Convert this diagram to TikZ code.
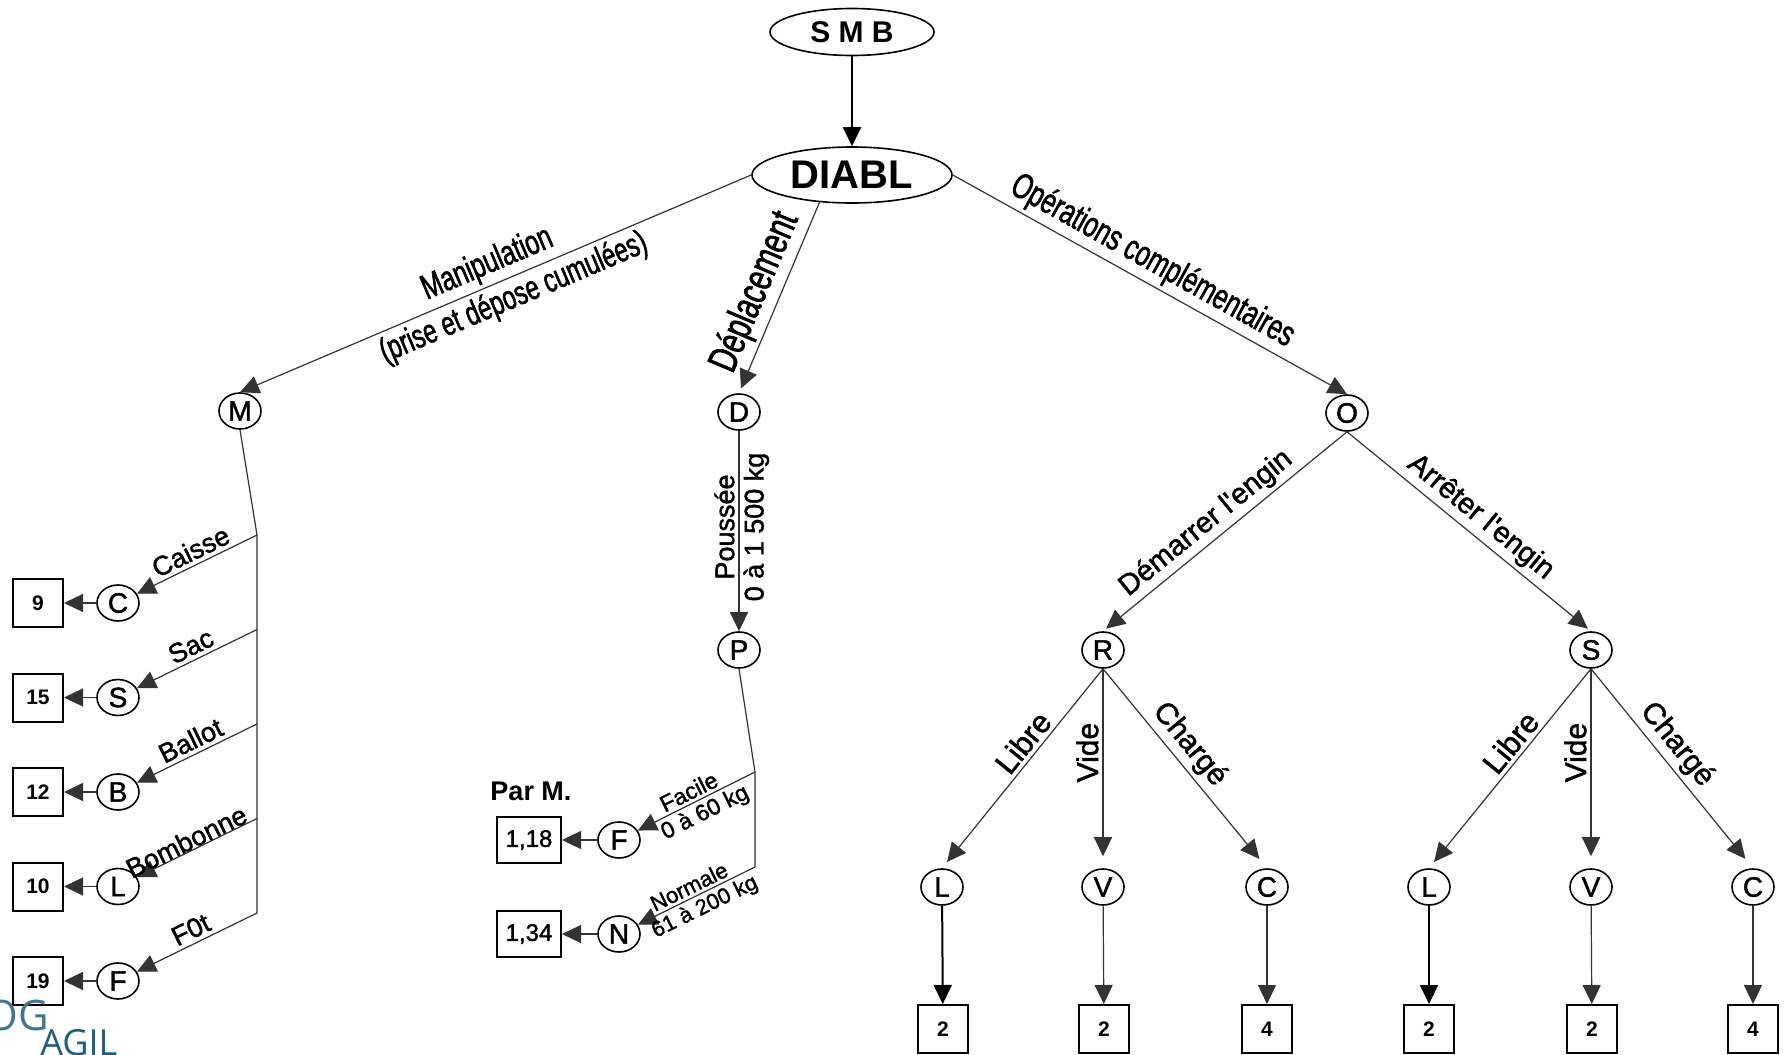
\documentclass[tikz,border=0pt]{standalone}
\usepackage{fontspec}
\setmainfont{Liberation Sans}
\newfontfamily\lblfont[FakeBold=1.5]{Liberation Sans}
\newfontfamily\narrowfont[FakeStretch=0.7,FakeBold=1.5]{Liberation Sans}
\newfontfamily\logofont{Open Sans}
\usetikzlibrary{arrows.meta,shapes.geometric}
\definecolor{logoteal}{HTML}{1F5E80}
\definecolor{linegrey}{HTML}{333333}
\tikzset{
  oval/.style={ellipse, draw, line width=0.8pt, inner sep=0pt},
  circ/.style={ellipse, draw, line width=0.8pt, minimum width=21pt, minimum height=18pt, inner sep=0pt, font=\lblfont\fontsize{14}{14}\selectfont},
  numbox/.style={rectangle, draw, line width=1pt, minimum width=25pt, minimum height=24pt, inner sep=0pt, font=\bfseries\fontsize{10.5}{10.5}\selectfont},
  widebox/.style={rectangle, draw, line width=1pt, minimum width=32pt, minimum height=23pt, inner sep=0pt, font=\lblfont\fontsize{12}{12}\selectfont},
  link/.style={draw=linegrey, line width=0.6pt, -{Triangle[length=9.5pt,width=9pt]}},
  plainline/.style={draw=linegrey, line width=0.6pt},
  leaflink/.style={draw=black, line width=1pt, -{Triangle[length=9.5pt,width=9pt]}},
  lblmain/.style={font=\narrowfont\fontsize{17.5}{17.5}\selectfont, inner sep=2pt},
  lblleft/.style={font=\lblfont\fontsize{13.5}{13.5}\selectfont, inner sep=2pt},
  lblright/.style={font=\lblfont\fontsize{14.5}{14.5}\selectfont, inner sep=2pt},
  lblsmall/.style={font=\lblfont\fontsize{11.5}{11.5}\selectfont, inner sep=1.5pt},
}
\begin{document}
\begin{tikzpicture}[x=0.5pt,y=-0.5pt]
\useasboundingbox (0,0) rectangle (1785,1055);
\fill[white] (0,0) rectangle (1785,1055);

% top
\node[oval, minimum width=82pt, minimum height=23.5pt, font=\bfseries\fontsize{15}{15}\selectfont] (smb) at (852,32) {S M B};
\node[oval, minimum width=100pt, minimum height=28pt, font=\bfseries\fontsize{20}{20}\selectfont] (diabl) at (852,175) {DIABL};
\draw[leaflink] (smb) -- (diabl);

% level 1
\node[circ] (M) at (240,411) {M};
\node[circ] (D) at (739,412) {D};
\node[circ] (O) at (1347,413) {O};

\draw[link] (diabl.west) -- (M.north)
  node[pos=.50, sloped, above, lblmain] {Manipulation}
  node[pos=.48, sloped, below, lblmain, font=\narrowfont\fontsize{17}{17}\selectfont] {(prise et dépose cumulées)};
\draw[link, shorten >=2.5pt] (diabl.-140) -- (D.north)
  node[pos=.52, sloped, above, lblmain, font=\narrowfont\fontsize{20.5}{20.5}\selectfont] {Déplacement};
\draw[link] (diabl.east) -- (O.north)
  node[pos=.48, sloped, above, lblmain, font=\narrowfont\fontsize{17.8}{17.8}\selectfont] {Opérations complémentaires};

% left branch
\coordinate (mj1) at (257,535);
\coordinate (mj2) at (257,629.5);
\coordinate (mj3) at (257,724);
\coordinate (mj4) at (257,818.5);
\coordinate (mj5) at (257,913);
\draw[plainline] (M.south) -- (mj1) -- (mj5);

\node[circ] (lc) at (118,603) {C};
\node[circ] (ls) at (118,697.5) {S};
\node[circ] (lb) at (118,792) {B};
\node[circ] (ll) at (118,886.5) {L};
\node[circ] (lf) at (118,981) {F};
\node[numbox] (b9) at (38,603) {9};
\node[numbox] (b15) at (38,697.5) {15};
\node[numbox] (b12) at (38,792) {12};
\node[numbox] (b10) at (38,886.5) {10};
\node[numbox] (b19) at (38,981) {19};

\draw[link] (mj1) -- (lc) node[pos=.5, sloped, above, lblleft] {Caisse};
\draw[link] (mj2) -- (ls) node[pos=.5, sloped, above, lblleft] {Sac};
\draw[link] (mj3) -- (lb) node[pos=.5, sloped, above, lblleft] {Ballot};
\draw[link] (mj4) -- (ll) node[pos=.55, sloped, above, lblleft, inner sep=0pt] {Bombonne};
\draw[link] (mj5) -- (lf) node[pos=.5, sloped, above, lblleft] {F0t};
\draw[link] (lc) -- (b9);
\draw[link] (ls) -- (b15);
\draw[link] (lb) -- (b12);
\draw[link] (ll) -- (b10);
\draw[link] (lf) -- (b19);

% middle branch
\node[circ] (P) at (739,650) {P};
\draw[link] (D) -- (P)
  node[pos=.48, rotate=90, anchor=south, lblleft] {Poussée}
  node[pos=.48, rotate=90, anchor=north, lblleft] {0 à 1 500 kg};
\coordinate (pj1) at (755,772);
\coordinate (pj2) at (755,867);
\draw[plainline] (P.south) -- (pj1) -- (pj2);
\node[circ] (pf) at (619,840) {F};
\node[circ] (pn) at (619,934) {N};
\node[widebox] (b118) at (529,840) {1,18};
\node[widebox] (b134) at (529,934) {1,34};
\node[font=\bfseries\fontsize{13.5}{13.5}\selectfont, inner sep=0pt] (parm) at (531,791) {Par M.};
\draw[link] (pj1) -- (pf)
  node[pos=.52, sloped, above, lblsmall] {Facile}
  node[pos=.48, sloped, below, lblsmall] {0 à 60 kg};
\draw[link] (pj2) -- (pn)
  node[pos=.52, sloped, above, lblsmall, font=\lblfont\fontsize{11}{11}\selectfont] {Normale}
  node[pos=.48, sloped, below, lblsmall, font=\lblfont\fontsize{11}{11}\selectfont] {61 à 200 kg};
\draw[link] (pf) -- (b118);
\draw[link] (pn) -- (b134);

% right branch
\node[circ] (R) at (1103,650) {R};
\node[circ] (S) at (1591,650) {S};
\draw[link, shorten >=2pt] (O.south) -- (R.north)
  node[pos=.53, sloped, above, lblright] {Démarrer l'engin};
\draw[link, shorten >=2pt] (O.south) -- (S.north)
  node[pos=.50, sloped, above, lblright] {Arrêter l'engin};

\node[circ] (rl) at (942,887) {L};
\node[circ] (rv) at (1103,887) {V};
\node[circ] (rc) at (1267,887) {C};
\node[circ] (sl) at (1429,887) {L};
\node[circ] (sv) at (1591,887) {V};
\node[circ] (sc) at (1753,887) {C};

\draw[link, shorten >=4pt] (R.south) -- (rl.north) node[pos=.42, sloped, above, lblright, font=\lblfont\fontsize{15.5}{15.5}\selectfont] {Libre};
\draw[link, shorten >=6pt] (R.south) -- (rv.north) node[pos=.42, rotate=90, anchor=south, lblright, font=\lblfont\fontsize{15}{15}\selectfont] {Vide};
\draw[link, shorten >=6pt] (R.south) -- (rc.north) node[pos=.44, sloped, above, lblright, font=\lblfont\fontsize{15}{15}\selectfont] {Chargé};
\draw[link, shorten >=4pt] (S.south) -- (sl.north) node[pos=.42, sloped, above, lblright, font=\lblfont\fontsize{15.5}{15.5}\selectfont] {Libre};
\draw[link, shorten >=6pt] (S.south) -- (sv.north) node[pos=.42, rotate=90, anchor=south, lblright, font=\lblfont\fontsize{15}{15}\selectfont] {Vide};
\draw[link, shorten >=6pt] (S.south) -- (sc.north) node[pos=.44, sloped, above, lblright, font=\lblfont\fontsize{15}{15}\selectfont] {Chargé};

\node[numbox] (rb1) at (943,1029) {2};
\node[numbox] (rb2) at (1104,1029) {2};
\node[numbox] (rb3) at (1267,1029) {4};
\node[numbox] (sb1) at (1429,1029) {2};
\node[numbox] (sb2) at (1592,1029) {2};
\node[numbox] (sb3) at (1753,1029) {4};
\draw[leaflink] (rl) -- (rb1);
\draw[link] (rv) -- (rb2);
\draw[link] (rc) -- (rb3);
\draw[leaflink] (sl) -- (sb1);
\draw[link] (sv) -- (sb2);
\draw[link] (sc) -- (sb3);

% logo fragment
\node[anchor=base east, inner sep=0pt, text=logoteal!85, font=\logofont\fontsize{21}{21}\selectfont] (og) at (49,1030) {OG};
\node[anchor=base west, inner sep=0pt, text=logoteal, font=\logofont\fontsize{18}{18}\selectfont] (agil) at (40,1055) {AGIL};
\end{tikzpicture}
\end{document}
